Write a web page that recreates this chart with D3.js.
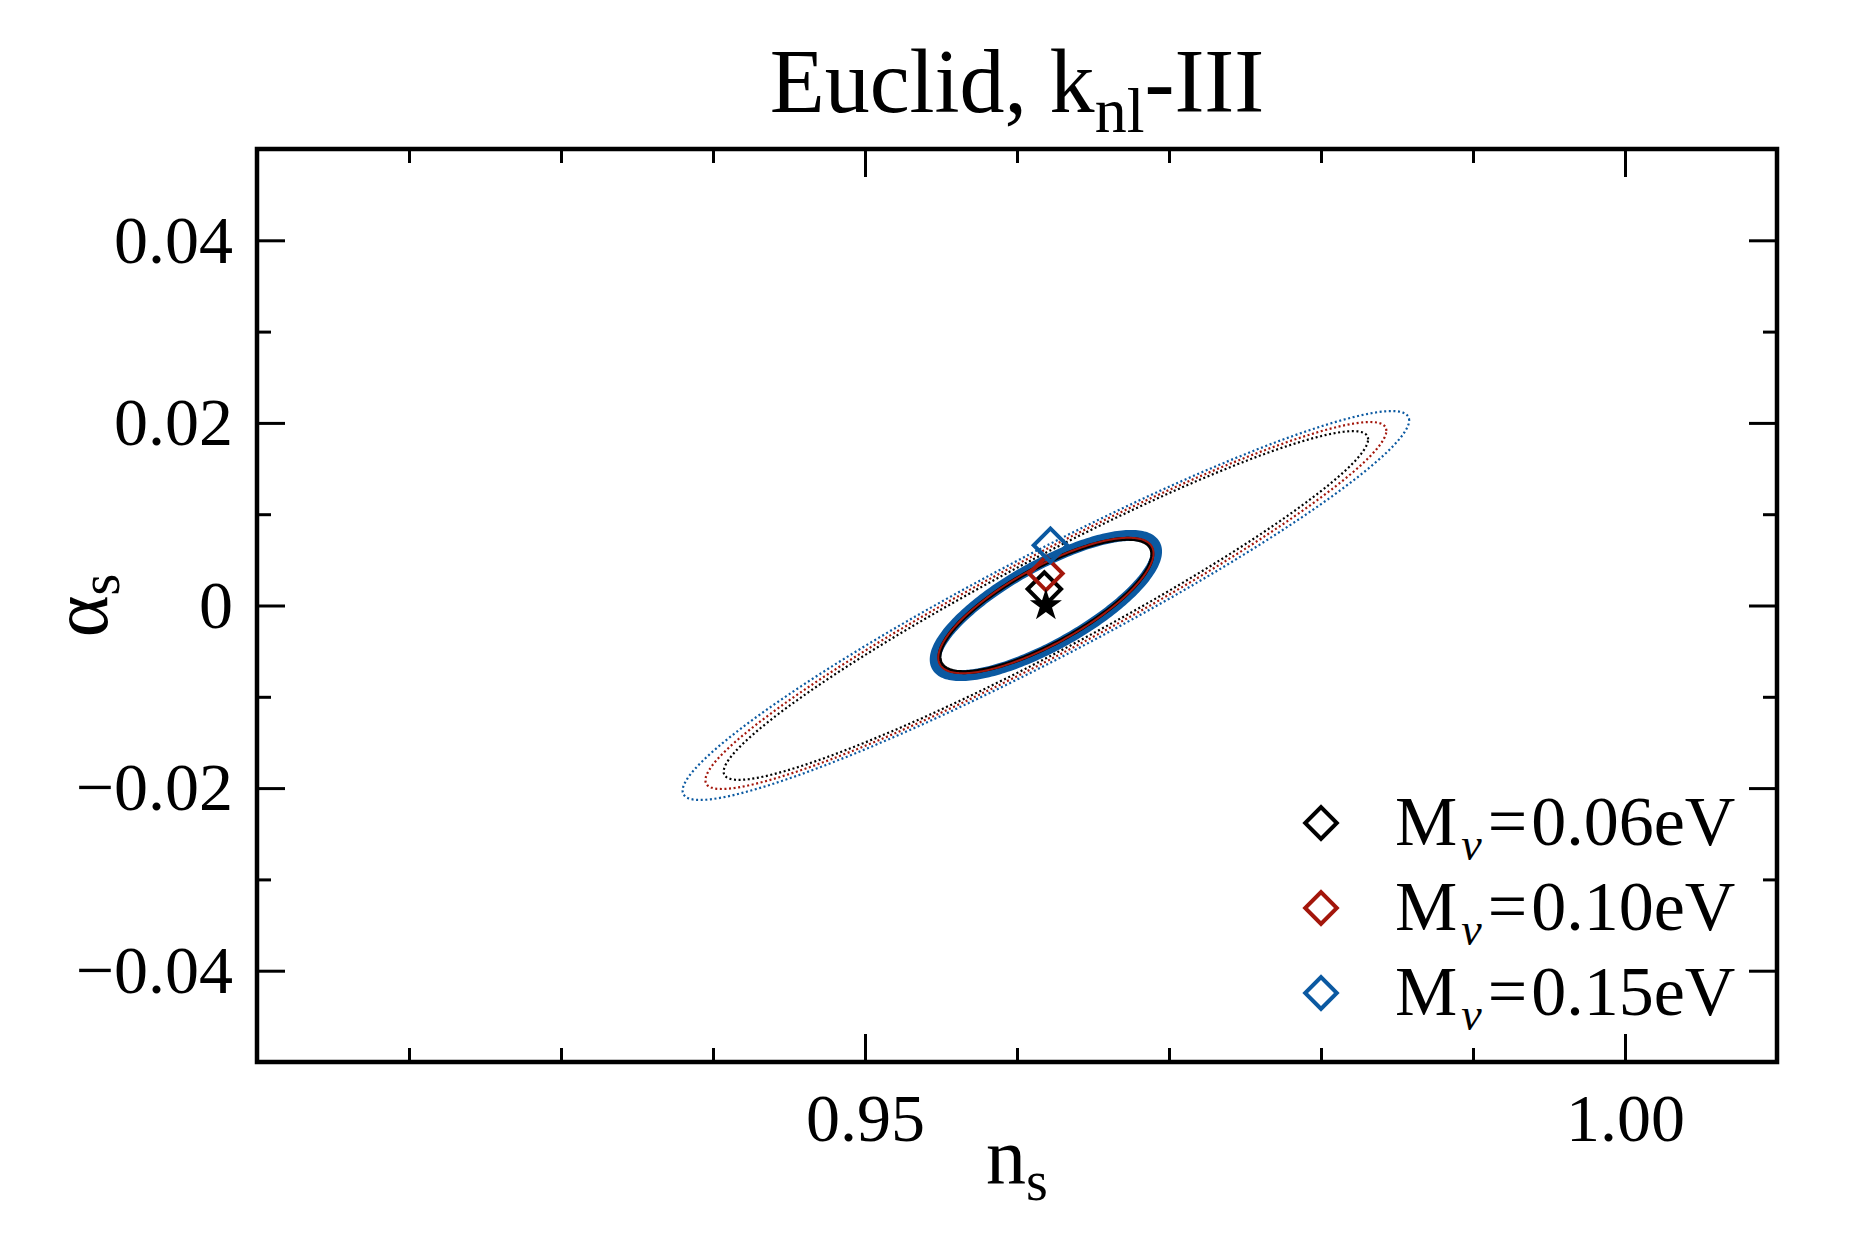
<!DOCTYPE html>
<html>
<head>
<meta charset="utf-8">
<script src="https://cdn.jsdelivr.net/npm/d3@7"></script>
<style>
  body { margin: 0; background: #fff; }
  text { font-family: "Liberation Serif", "Times New Roman", serif; fill: #000; }
</style>
</head>
<body>
<div id="vis"></div>
<script>
// neutrino masses and colours of the three cases
var masses = ["0.06", "0.10", "0.15"];
var colors = ["#000000", "#a3160b", "#0b59a1"];

// fiducial point (star)
var fidNs = 0.9619, fidAlpha = 0;

// shifted best fit (diamonds)
var bestNs = [0.9618, 0.9619, 0.9622];
var bestAlpha = [0.0018, 0.0035, 0.0066];

// solid contours: half extent in ns, in alpha_s, correlation
var solidNs = [0.00700, 0.00708, 0.00728];
var solidAlpha = [0.00730, 0.00742, 0.00768];
var solidRho = [0.77, 0.77, 0.77];

// dotted contours
var dotNs = [0.0212, 0.0224, 0.0239];
var dotAlpha = [0.0191, 0.0201, 0.0213];
var dotRho = [0.953, 0.952, 0.952];

// ticks
var xMajor = [0.95, 1.00];
var xMinor = [0.92, 0.93, 0.94, 0.96, 0.97, 0.98, 0.99];
var yMajor = [-0.04, -0.02, 0, 0.02, 0.04];
var yMinor = [-0.03, -0.01, 0.01, 0.03];

var W = 1875, H = 1250;
var pL = 257, pR = 1777, pT = 149, pB = 1062;

var svg = d3.select("#vis").append("svg")
    .attr("width", W)
    .attr("height", H);

var x = d3.scaleLinear().domain([0.91, 1.01]).range([pL, pR]);
var y = d3.scaleLinear().domain([-0.05, 0.05]).range([pB, pT]);

function fmtY(d) {
    if (d === 0) return "0";
    return (d < 0 ? "\u2212" : "") + Math.abs(d).toFixed(2);
}

// bottom / top
svg.append("g").attr("transform", "translate(0," + pB + ")")
    .call(d3.axisBottom(x).tickValues(xMinor).tickSize(-14).tickFormat(""));
svg.append("g").attr("transform", "translate(0," + pB + ")")
    .call(d3.axisBottom(x).tickValues(xMajor).tickSize(-28).tickPadding(31)
        .tickFormat(function(d) { return d.toFixed(2); }));
svg.append("g").attr("transform", "translate(0," + pT + ")")
    .call(d3.axisTop(x).tickValues(xMinor).tickSize(-14).tickFormat(""));
svg.append("g").attr("transform", "translate(0," + pT + ")")
    .call(d3.axisTop(x).tickValues(xMajor).tickSize(-28).tickFormat(""));

// left / right
svg.append("g").attr("transform", "translate(" + pL + ",0)")
    .call(d3.axisLeft(y).tickValues(yMinor).tickSize(-14).tickFormat(""));
svg.append("g").attr("transform", "translate(" + pL + ",0)")
    .call(d3.axisLeft(y).tickValues(yMajor).tickSize(-28).tickPadding(24).tickFormat(fmtY));
svg.append("g").attr("transform", "translate(" + pR + ",0)")
    .call(d3.axisRight(y).tickValues(yMinor).tickSize(-14).tickFormat(""));
svg.append("g").attr("transform", "translate(" + pR + ",0)")
    .call(d3.axisRight(y).tickValues(yMajor).tickSize(-28).tickFormat(""));

svg.selectAll(".domain").remove();
svg.selectAll(".tick line").attr("stroke", "#000").attr("stroke-width", 3);
svg.selectAll(".tick text")
    .style("font-family", "'Liberation Serif', serif")
    .style("font-size", "68px")
    .attr("fill", "#000");

// ellipse outline from half extents and correlation
function ellipse(cx, cy, ax, ay, rho) {
    var s = Math.sqrt(1 - rho * rho);
    return d3.range(0, 360, 1.5).map(function(a) {
        var t = a * Math.PI / 180;
        return [x(cx + ax * Math.cos(t)),
                y(cy + ay * (rho * Math.cos(t) + s * Math.sin(t)))];
    });
}
var line = d3.line().curve(d3.curveLinearClosed);

var plot = svg.append("g");

// dotted contours
plot.selectAll("path.dot")
    .data(masses)
    .enter()
    .append("path")
    .attr("class", "dot")
    .attr("d", function(d, i) {
        return line(ellipse(fidNs, fidAlpha, dotNs[i], dotAlpha[i], dotRho[i]));
    })
    .attr("fill", "none")
    .attr("stroke", function(d, i) { return colors[i]; })
    .attr("stroke-width", 2.2)
    .attr("stroke-dasharray", "2,2.6");

// solid contours: blue thick behind, then black, then red
var solidOrder = [2, 0, 1];
var solidWidth = [4, 2, 11];
plot.selectAll("path.solid")
    .data(solidOrder)
    .enter()
    .append("path")
    .attr("class", "solid")
    .attr("d", function(i) {
        return line(ellipse(fidNs, fidAlpha, solidNs[i], solidAlpha[i], solidRho[i]));
    })
    .attr("fill", "none")
    .attr("stroke", function(i) { return colors[i]; })
    .attr("stroke-width", function(i) { return solidWidth[i]; });

// diamonds
var diamond = d3.symbol().type(d3.symbolSquare).size(560);
plot.selectAll("path.best")
    .data(masses)
    .enter()
    .append("path")
    .attr("class", "best")
    .attr("d", diamond)
    .attr("transform", function(d, i) {
        return "translate(" + x(bestNs[i]) + "," + y(bestAlpha[i]) + ") rotate(45)";
    })
    .attr("fill", "none")
    .attr("stroke", function(d, i) { return colors[i]; })
    .attr("stroke-width", 4);

// fiducial star
plot.append("path")
    .attr("d", d3.symbol().type(d3.symbolStar).size(320))
    .attr("transform", "translate(" + x(fidNs) + "," + y(fidAlpha) + ")")
    .attr("fill", "#000");

// frame
svg.append("rect")
    .attr("x", pL).attr("y", pT)
    .attr("width", pR - pL).attr("height", pB - pT)
    .attr("fill", "none").attr("stroke", "#000").attr("stroke-width", 4.5);

// legend
var legend = svg.selectAll("g.legend")
    .data(masses)
    .enter()
    .append("g")
    .attr("class", "legend")
    .attr("transform", function(d, i) { return "translate(1321," + (823 + i * 85) + ")"; });

legend.append("path")
    .attr("d", d3.symbol().type(d3.symbolSquare).size(500))
    .attr("transform", "rotate(45)")
    .attr("fill", "none")
    .attr("stroke", function(d, i) { return colors[i]; })
    .attr("stroke-width", 4);

var lt = legend.append("text")
    .attr("x", 74)
    .attr("y", 22)
    .style("font-size", "70px");
lt.append("tspan").text("M");
lt.append("tspan").attr("dx", 4).attr("dy", 15).style("font-size", "46px").style("font-style", "italic").text("\u03bd");
lt.append("tspan").attr("dx", 6).attr("dy", -15).text("=");
lt.append("tspan").attr("dx", 4).text(function(d) { return d + "eV"; });

// title
var title = svg.append("text")
    .attr("x", (pL + pR) / 2)
    .attr("y", 112)
    .attr("text-anchor", "middle")
    .style("font-size", "90px");
title.append("tspan").text("Euclid, k");
title.append("tspan").attr("dy", 20).style("font-size", "64px").text("nl");
title.append("tspan").attr("dy", -20).text("-III");

// axis labels
var xl = svg.append("text")
    .attr("x", (pL + pR) / 2)
    .attr("y", 1183)
    .attr("text-anchor", "middle")
    .style("font-size", "80px");
xl.append("tspan").text("n");
xl.append("tspan").attr("dy", 17).style("font-size", "56px").text("s");

var yl = svg.append("text")
    .attr("transform", "translate(107," + ((pT + pB) / 2) + ") rotate(-90)")
    .attr("text-anchor", "middle")
    .style("font-size", "80px");
yl.append("tspan").text("\u03b1");
yl.append("tspan").attr("dy", 12).style("font-size", "56px").text("s");
</script>
</body>
</html>
